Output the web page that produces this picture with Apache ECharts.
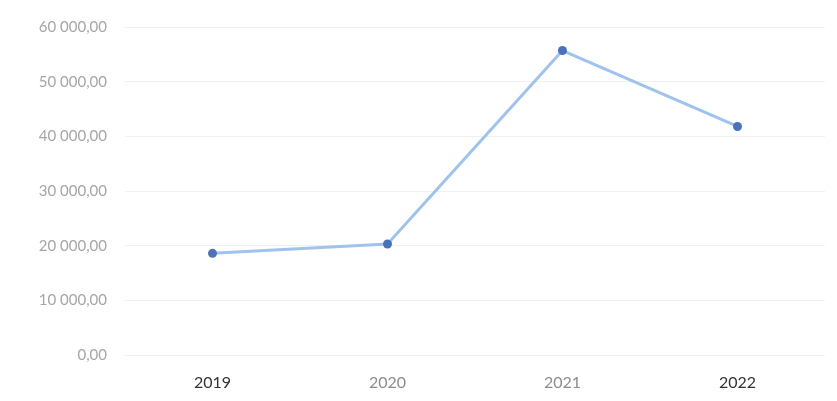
<!DOCTYPE html>
<html><head><meta charset="utf-8">
<script src="https://cdn.jsdelivr.net/npm/echarts@6/dist/echarts.min.js"></script>
<style>html,body{margin:0;padding:0;background:#fff}#c{width:837px;height:401px}</style>
</head><body><div id="c"></div>
<script>
const categories = ['2019', '2020', '2021', '2022'];
const values = [18600, 20300, 55700, 41800];
const labelColors = ['#333333', '#8c8c8c', '#8c8c8c', '#333333'];

function fmt(v) {
  const parts = v.toFixed(2).split('.');
  const intPart = parts[0].replace(/\B(?=(\d{3})+(?!\d))/g, ' ');
  return intPart + ',' + parts[1];
}

const chart = echarts.init(document.getElementById('c'));
chart.setOption({
  animation: false,
  grid: { left: 125, right: 12, top: 27, bottom: 46 },
  xAxis: {
    type: 'category',
    data: categories,
    boundaryGap: true,
    axisLine: { show: false },
    axisTick: { show: false },
    axisLabel: {
      margin: 20,
      fontFamily: 'Lato',
      fontSize: 16,
      color: function (v, i) { return labelColors[i]; }
    }
  },
  yAxis: {
    type: 'value',
    min: 0, max: 60000, interval: 10000,
    axisLine: { show: false },
    axisTick: { show: false },
    splitLine: { lineStyle: { color: '#f0f0f0', width: 1 } },
    axisLabel: {
      margin: 18,
      fontFamily: 'Lato',
      fontSize: 15,
      color: '#a6a6a6',
      formatter: fmt
    }
  },
  series: [{
    type: 'line',
    data: values,
    symbol: 'circle',
    symbolSize: 9,
    lineStyle: { color: '#9fc3ec', width: 3 },
    itemStyle: { color: '#4a72b8' }
  }]
});
</script></body></html>
